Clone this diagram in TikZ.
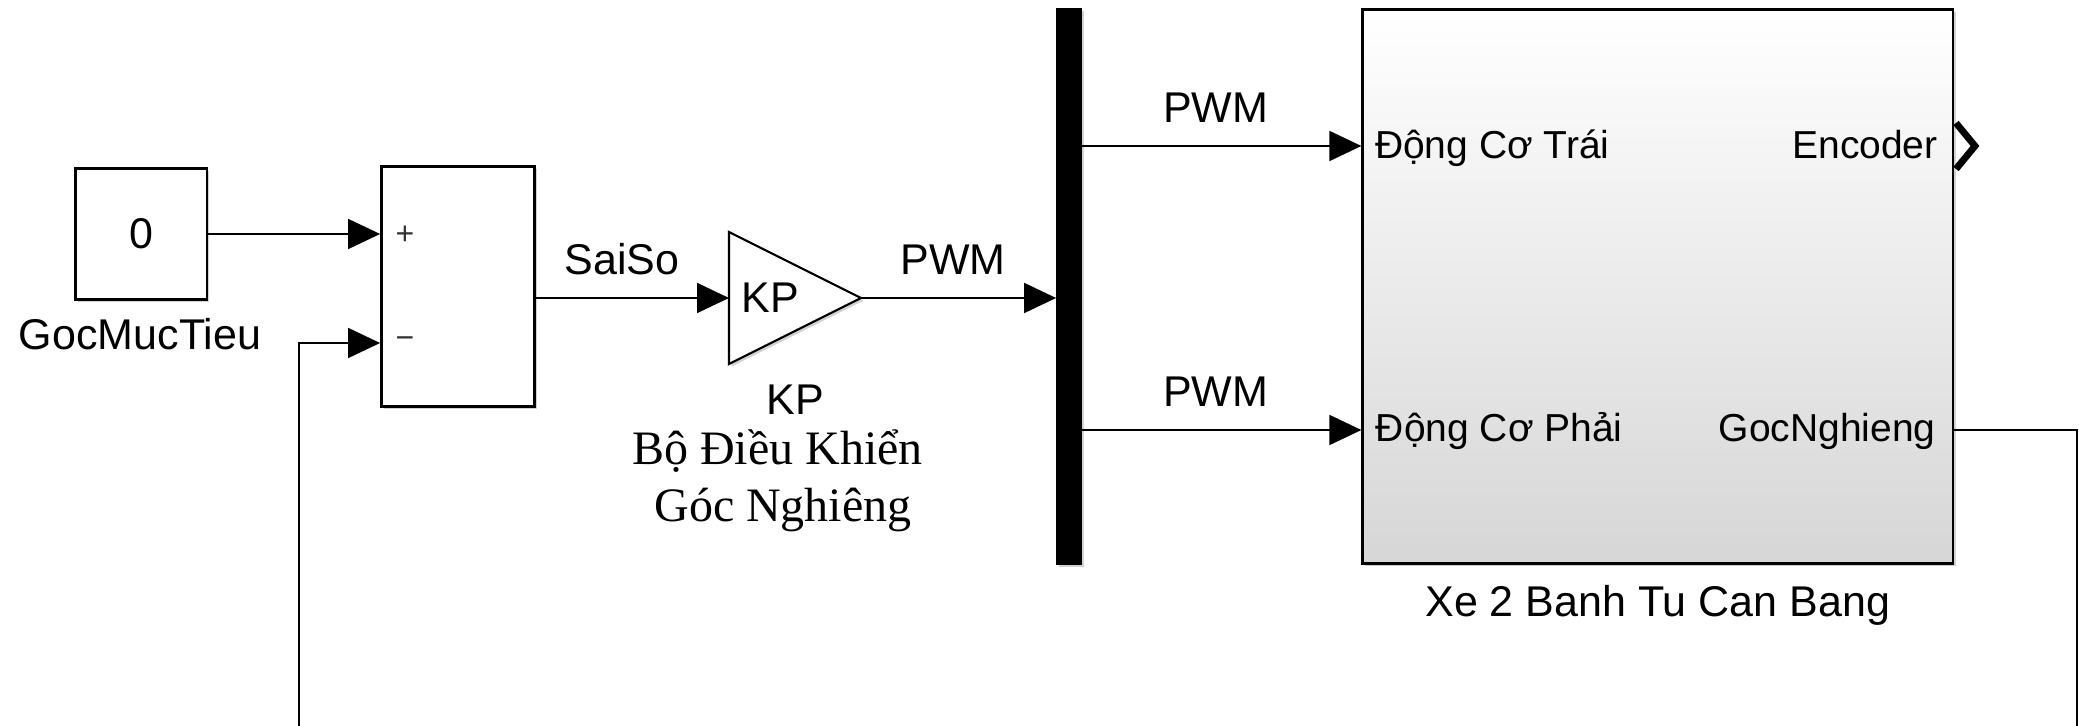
\documentclass[tikz,border=0pt]{standalone}
\usepackage{fontspec}
\setmainfont{Liberation Sans}
\newfontfamily\serifvn{Liberation Serif}
\usetikzlibrary{arrows.meta,shadows}
\begin{document}
\begin{tikzpicture}[x=0.5pt,y=-0.5pt,
  shd/.style={drop shadow={shadow xshift=1.3pt,shadow yshift=-1.3pt,fill=gray!70,opacity=0.5}},
  blk/.style={draw=black,line width=1.3pt,fill=white,inner sep=0pt,shd},
  conn/.style={line width=0.9pt,-{Triangle[length=16pt,width=15pt]}},
  wire/.style={line width=0.9pt},
  lbl/.style={font=\fontsize{21.5}{24}\selectfont,inner sep=0pt},
  portlbl/.style={font=\fontsize{19.5}{22}\selectfont,inner sep=0pt},
  sgn/.style={font=\fontsize{16}{18}\selectfont,inner sep=0pt,text=black!80},
  vn/.style={font=\serifvn\fontsize{24}{28}\selectfont,inner sep=0pt},
]
\useasboundingbox (0,0) rectangle (2079,726);

% blocks
\node[blk,lbl,minimum width=65.6pt,minimum height=65.5pt] (const) at (141.2,234) {0};
\node[blk,minimum width=76.6pt,minimum height=120pt] (sum) at (458,286.7) {};
\node[draw=black,fill=black,line width=0.5pt,minimum width=12.2pt,minimum height=277.9pt,inner sep=0pt,shd] (mux) at (1068.8,286.2) {};
\node[draw=black,line width=1.3pt,inner sep=0pt,minimum width=295.2pt,minimum height=277.1pt,
      top color=white,middle color=gray!5,bottom color=gray!32,shd] (plant) at (1657.9,286.4) {};

% gain triangle
\draw[line width=1.1pt,fill=white,shd] (729,232) -- (861,298) -- (729,364) -- cycle;
\coordinate (gin) at (729,298);
\coordinate (gout) at (861,298);
\node[lbl,anchor=base] (kpin) at (770,313) {KP};

% port coordinates
\coordinate (plus) at (sum.west |- 0,234);
\coordinate (minus) at (sum.west |- 0,343);
\coordinate (inA) at (plant.west |- 0,146);
\coordinate (inB) at (plant.west |- 0,430);
\coordinate (outA) at (plant.east |- 0,146);
\coordinate (outB) at (plant.east |- 0,430);
\coordinate (fbR) at (2077,726);
\coordinate (fbL) at (299,726);

% connectors
\draw[conn] (const.east) -- (plus);
\draw[conn] (sum.east |- gin) -- (gin);
\draw[conn] (gout) -- (gout -| mux.west);
\draw[conn] (mux.east |- inA) -- (inA);
\draw[conn] (mux.east |- inB) -- (inB);
\draw[wire] (outB) -| (fbR);
\draw[conn] (fbL) |- (minus);

% Encoder output port chevron
\draw[line width=3.4pt,miter limit=10] (1956,123) -- (1975,146) -- (1956,169);

% labels
\node[lbl,anchor=base] (lgoc) at (140,350) {GocMucTieu};
\node[sgn] (lplus) at (405,235) {+};
\node[sgn] (lminus) at (405,343) {−};
\node[lbl,anchor=base] (lsai) at (622,275) {SaiSo};
\node[lbl,anchor=base] (lkp) at (795,415) {KP};
\node[vn,anchor=base] (lbo) at (777.5,465) {Bộ Điều Khiển};
\node[vn,anchor=base] (lgn) at (783,521.5) {Góc Nghiêng};
\node[lbl,anchor=base] (lpwm0) at (953,275) {PWM};
\node[lbl,anchor=base] (lpwm1) at (1215.6,123) {PWM};
\node[lbl,anchor=base] (lpwm2) at (1215.6,407) {PWM};
\node[portlbl,anchor=base west] (ldct) at (1374.7,158.3) {Động Cơ Trái};
\node[portlbl,anchor=base east] (lenc) at (1938,158.3) {Encoder};
\node[portlbl,anchor=base west] (ldcp) at (1375.5,441.7) {Động Cơ Phải};
\node[portlbl,anchor=base east] (lgng) at (1936,441.7) {GocNghieng};
\node[lbl,anchor=base] (lxe) at (1657.7,616.7) {Xe 2 Banh Tu Can Bang};
\end{tikzpicture}
\end{document}
